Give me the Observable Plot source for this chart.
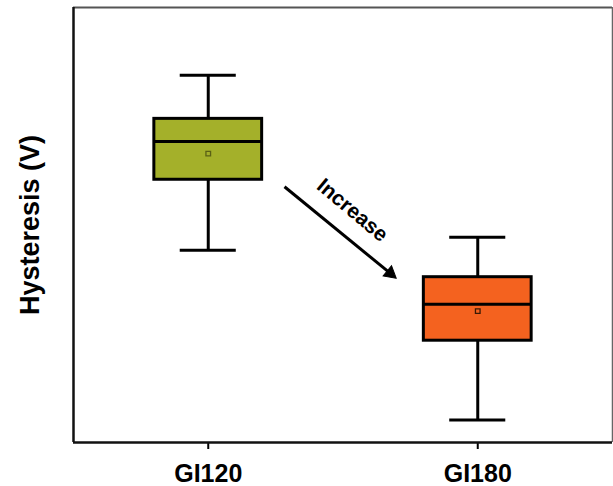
<!DOCTYPE html>
<html>
<head>
<meta charset="utf-8">
<script src="https://cdn.jsdelivr.net/npm/d3@7"></script>
<script src="https://cdn.jsdelivr.net/npm/@observablehq/plot@0.6"></script>
<style>
  html, body { margin: 0; padding: 0; background: #ffffff; }
  #chart { width: 613px; height: 486px; }
  svg { font-family: "Liberation Sans", Arial, sans-serif; }
</style>
</head>
<body>
<div id="chart"></div>
<script>
// ---- data (y in volts, arbitrary scale) ----
const categories = ["GI120", "GI180"];
const whiskerLow = [2.21, 0.26];
const q1Values   = [3.02, 1.17];
const medians    = [3.46, 1.59];
const q3Values   = [3.72, 1.90];
const whiskerHigh= [4.22, 2.36];
const means      = [3.32, 1.51];
const yLabel = "Hysteresis (V)";
const annotationText = "Increase";
// annotation arrow: from [x, y] to [x, y] in data units
const arrowFrom = [1.283, 2.94];
const arrowTo   = [1.697, 1.89];
const annotationAt = [1.535, 2.67];

// ---- styles ----
const boxColors = ["#a4b02a", "#f4621f"];
const meanColors = ["#5a6015", "#3a1a05"];
const boxHalf = 0.2;
const capHalf = 0.104;

const rows = categories.map((c, i) => ({
  name: c, pos: i + 1,
  lo: whiskerLow[i], q1: q1Values[i], med: medians[i], q3: q3Values[i], hi: whiskerHigh[i], mean: means[i],
  fill: boxColors[i], meanStroke: meanColors[i]
}));

const lerp = (a, b, t) => a + (b - a) * t;
const shaft = [{ x1: arrowFrom[0], y1: arrowFrom[1], x2: lerp(arrowFrom[0], arrowTo[0], 0.93), y2: lerp(arrowFrom[1], arrowTo[1], 0.93) }];
const head = [{ x: lerp(arrowFrom[0], arrowTo[0], 0.948), y: lerp(arrowFrom[1], arrowTo[1], 0.948) }];

const chart = Plot.plot({
  width: 613,
  height: 486,
  marginTop: 7,
  marginBottom: 44,
  marginLeft: 73,
  marginRight: 1,
  style: { fontFamily: '"Liberation Sans", Arial, sans-serif', color: "#000", background: "#fff" },
  x: { domain: [0.5, 2.5] },
  y: { domain: [0, 5] },
  marks: [
    // frame: thin gray top/right, thick black left/bottom
    Plot.ruleY([5], { stroke: "#555", strokeWidth: 2 }),
    Plot.ruleX([2.5], { stroke: "#666", strokeWidth: 1.5 }),
    // whiskers
    Plot.ruleX(rows, { x: "pos", y1: "lo", y2: "q1", stroke: "#000", strokeWidth: 3 }),
    Plot.ruleX(rows, { x: "pos", y1: "q3", y2: "hi", stroke: "#000", strokeWidth: 3 }),
    // caps
    Plot.ruleY(rows, { y: "lo", x1: d => d.pos - capHalf, x2: d => d.pos + capHalf, stroke: "#000", strokeWidth: 3 }),
    Plot.ruleY(rows, { y: "hi", x1: d => d.pos - capHalf, x2: d => d.pos + capHalf, stroke: "#000", strokeWidth: 3 }),
    // boxes
    Plot.rect(rows, { x1: d => d.pos - boxHalf, x2: d => d.pos + boxHalf, y1: "q1", y2: "q3", fill: "fill", stroke: "#000", strokeWidth: 3 }),
    // medians
    Plot.ruleY(rows, { y: "med", x1: d => d.pos - boxHalf, x2: d => d.pos + boxHalf, stroke: "#000", strokeWidth: 3 }),
    // means
    Plot.dot(rows, { x: "pos", y: "mean", symbol: "square", r: 2.6, stroke: "meanStroke", strokeWidth: 1.3, fill: "none" }),
    // annotation
    Plot.link(shaft, { x1: "x1", y1: "y1", x2: "x2", y2: "y2", stroke: "#000", strokeWidth: 3 }),
    Plot.dot(head, { x: "x", y: "y", symbol: "triangle", r: 4.9, fill: "#000", stroke: "#000", strokeWidth: 1, rotate: 129.3 }),
    Plot.text([annotationText], { x: () => annotationAt[0], y: () => annotationAt[1], text: d => d, rotate: 40, fontSize: 21, fontWeight: "bold", fill: "#000" }),
    // axes
    Plot.axisX({ ticks: [1, 2], tickFormat: i => categories[i - 1], tickSize: 7, tickPadding: 15, fontSize: 25, fontWeight: "bold", strokeWidth: 2, label: null }),
    Plot.axisY({ ticks: [], label: yLabel, labelAnchor: "center", labelArrow: false, labelOffset: 54, fontSize: 27, fontWeight: "bold" }),
    Plot.ruleX([0.5], { stroke: "#111", strokeWidth: 2.5 }),
    Plot.ruleY([0], { stroke: "#111", strokeWidth: 2.5 })
  ]
});
document.getElementById("chart").appendChild(chart);
</script>
</body>
</html>
